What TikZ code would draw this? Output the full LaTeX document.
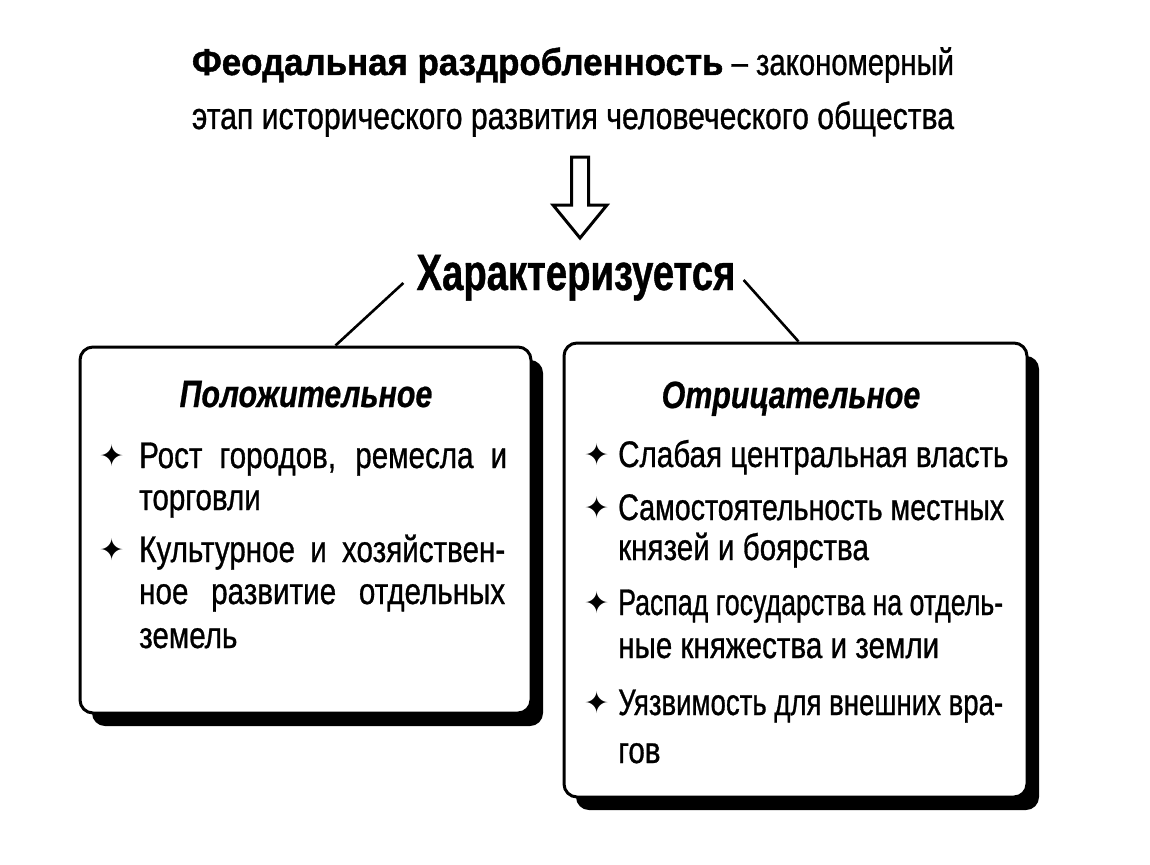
\documentclass[tikz,border=0pt]{standalone}
\usepackage{graphicx}
\usepackage{fontspec}
\setmainfont{Liberation Sans}[FakeStretch=0.8,UprightFeatures={FakeBold=0.8},BoldFeatures={FakeBold=0.6},BoldItalicFeatures={FakeBold=0.6}]
\newfontfamily\titrm{Liberation Sans}[FakeStretch=0.815,UprightFeatures={FakeBold=0.8}]
\newfontfamily\titbf{Liberation Sans}[FakeStretch=0.97,BoldFeatures={FakeBold=1.2}]
\newfontfamily\chfont{Liberation Sans}[FakeStretch=0.75,BoldFeatures={FakeBold=0.8}]
\newfontfamily\bulfont{DejaVu Sans}
\usetikzlibrary{calc,shadows}
\newsavebox\jbox
\newcommand\jline[2]{\sbox\jbox{#2}\ifdim\wd\jbox>#1pt\relax\resizebox{#1pt}{\height}{\usebox\jbox}\else\makebox[#1pt][s]{#2}\fi}
\begin{document}
\begin{tikzpicture}[x=1pt,y=-1pt,
  ttl/.style={anchor=base,inner sep=0pt,font=\titrm\fontsize{37.5}{40}\selectfont},
  big/.style={anchor=base,inner sep=0pt,font=\chfont\bfseries\fontsize{51}{54}\selectfont},
  hdr/.style={anchor=base,inner sep=0pt,font=\bfseries\itshape\fontsize{38}{42}\selectfont},
  txt/.style={anchor=base west,inner sep=0pt,font=\fontsize{37}{40}\selectfont},
  bul/.style={anchor=center,inner sep=0pt,font=\bulfont\fontsize{30}{30}\selectfont},
  box/.style={draw=black,line width=3pt,rounded corners=13pt,fill=white,
    general shadow={fill=black,shadow xshift=12pt,shadow yshift=-13pt}},
  conn/.style={draw=black,line width=2.6pt},
  harrow/.style={draw=black,line width=3pt,fill=white,line join=miter}]
\useasboundingbox (0,0) rectangle (1150,864);
\fill[white] (0,0) rectangle (1150,864);

% title
\node[ttl] (t1) at (573,75) {\jline{762}{{\titbf\bfseries Феодальная раздробленность} – закономерный}};
\node[ttl] (t2) at (573,129) {\jline{762}{этап исторического развития человеческого общества}};

% hollow arrow
\coordinate (arr) at (580,157);
\draw[harrow] ($(arr)+(-8.5,0)$) -- ($(arr)+(8.5,0)$) -- ($(arr)+(8.5,48)$) -- ($(arr)+(27,48)$)
  -- ($(arr)+(0,81)$) -- ($(arr)+(-27,48)$) -- ($(arr)+(-8.5,48)$) -- cycle;

% central word
\node[big] (char) at (576,290) {Характеризуется};

% boxes
\node[box,minimum width=451pt,minimum height=366pt] (pos) at (305.5,530) {};
\node[box,minimum width=463pt,minimum height=454pt] (neg) at (795.5,570) {};

% connectors
\draw[conn] ($(char.base west)+(-13,-7)$) -- ($(pos.north west)+(257,0)$);
\draw[conn] ($(char.base east)+(8,-10)$) -- ($(neg.north west)+(236,0)$);

% left box
\node[hdr] (posh) at (306,407) {Положительное};
\node[bul] (pb1) at (112,456) {✦};
\node[txt] (p1a) at (139,468) {\jline{368}{Рост городов, ремесла и}};
\node[txt] (p1b) at (139,510) {торговли};
\node[bul] (pb2) at (112,550) {✦};
\node[txt] (p2a) at (139,562) {\jline{366}{Культурное и хозяйствен-}};
\node[txt] (p2b) at (139,604) {\jline{366}{ное развитие отдельных}};
\node[txt] (p2c) at (139,648) {земель};

% right box
\node[hdr] (negh) at (791,408) {Отрицательное};
\node[bul] (nb1) at (597,455) {✦};
\node[txt] (n1a) at (618,467) {Слабая центральная власть};
\node[bul] (nb2) at (597,508) {✦};
\node[txt] (n2a) at (618,520) {\jline{386}{Самостоятельность местных}};
\node[txt] (n2b) at (618,560) {князей и боярства};
\node[bul] (nb3) at (597,603) {✦};
\node[txt] (n3a) at (618,615) {\jline{385}{Распад государства на отдель-}};
\node[txt] (n3b) at (618,658) {ные княжества и земли};
\node[bul] (nb4) at (597,703) {✦};
\node[txt] (n4a) at (618,715) {\jline{385}{Уязвимость для внешних вра-}};
\node[txt] (n4b) at (618,763) {гов};
\end{tikzpicture}
\end{document}
